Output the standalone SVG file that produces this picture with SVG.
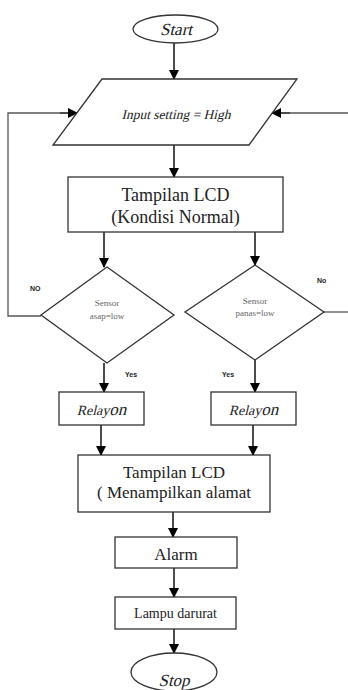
<svg xmlns="http://www.w3.org/2000/svg" width="348" height="690" viewBox="0 0 348 690">
<defs>
<marker id="ah" markerWidth="10" markerHeight="10" refX="9" refY="5" orient="auto" markerUnits="userSpaceOnUse">
<path d="M0,0 L10,5 L0,10 Z" fill="#000"/>
</marker>
<style>
.s{fill:#fff;stroke:#333;stroke-width:1.3}
.c{fill:none;stroke:#111;stroke-width:1.5}
.l{fill:none;stroke:#555;stroke-width:1.3}
.t{font-family:"Liberation Serif","Times New Roman",serif;fill:#222;text-anchor:middle}
.b{font-family:"Liberation Sans",sans-serif;font-weight:bold;font-size:7px;fill:#222}
.g{font-family:"Liberation Serif",serif;font-size:9px;fill:#666;text-anchor:middle}
</style>
</defs>
<rect width="348" height="690" fill="#fff"/>
<g id="connectors">
<line class="c" x1="174" y1="43" x2="174" y2="79" marker-end="url(#ah)"/>
<line class="c" x1="174" y1="145" x2="174" y2="177" marker-end="url(#ah)"/>
<line class="c" x1="104" y1="232" x2="104" y2="267" marker-end="url(#ah)"/>
<line class="c" x1="255" y1="232" x2="255" y2="265" marker-end="url(#ah)"/>
<polyline class="l" points="41,316 8,316 8,113 60,113"/>
<line class="c" x1="60" y1="113" x2="77" y2="113" marker-end="url(#ah)"/>
<line class="l" x1="348" y1="113" x2="290" y2="113"/>
<line class="c" x1="290" y1="113" x2="272" y2="113" marker-end="url(#ah)"/>
<line class="l" x1="324" y1="312" x2="348" y2="312"/>
<line class="c" x1="104" y1="363" x2="104" y2="392" marker-end="url(#ah)"/>
<line class="c" x1="255" y1="360" x2="255" y2="392" marker-end="url(#ah)"/>
<line class="c" x1="101" y1="425" x2="101" y2="455" marker-end="url(#ah)"/>
<line class="c" x1="253" y1="425" x2="253" y2="455" marker-end="url(#ah)"/>
<line class="c" x1="173" y1="512" x2="173" y2="537" marker-end="url(#ah)"/>
<line class="c" x1="174" y1="568" x2="174" y2="597" marker-end="url(#ah)"/>
<line class="c" x1="174" y1="629" x2="174" y2="653" marker-end="url(#ah)"/>
</g>
<g id="start">
<ellipse class="s" cx="175.5" cy="29" rx="42.5" ry="14"/>
<text class="t" transform="translate(176,35) skewX(-14)" font-size="17">Start</text>
</g>
<g id="input">
<polygon class="s" points="102,79 297,79 249,145 53,145"/>
<text class="t" transform="translate(176,119) skewX(-14)" font-size="13.5" fill="#333">Input setting = High</text>
</g>
<g id="lcd1">
<rect class="s" x="68" y="177" width="215" height="55"/>
<text class="t" x="175.5" y="201" font-size="18">Tampilan LCD</text>
<text class="t" x="175.5" y="223" font-size="18">(Kondisi Normal)</text>
</g>
<g id="sensor-asap">
<polygon class="s" points="107,267 174,315 107,363 41,315"/>
<text class="g" x="107" y="306">Sensor</text>
<text class="g" x="107" y="319">asap=low</text>
</g>
<g id="sensor-panas">
<polygon class="s" points="255,265 324,312 255,360 185,312"/>
<text class="g" x="255" y="304">Sensor</text>
<text class="g" x="255" y="316">panas=low</text>
</g>
<g id="labels">
<text class="b" x="30" y="291">NO</text>
<text class="b" x="317" y="283">No</text>
<text class="b" x="125" y="377" font-weight="normal" fill="#555">Yes</text>
<text class="b" x="222" y="377">Yes</text>
</g>
<g id="relay1">
<rect class="s" x="59" y="392" width="85" height="33"/>
<text class="t" transform="translate(101.5,415) skewX(-14)" fill="#555"><tspan font-size="14">Relay</tspan><tspan font-size="17">on</tspan></text>
</g>
<g id="relay2">
<rect class="s" x="211" y="392" width="85" height="33"/>
<text class="t" transform="translate(253.5,415) skewX(-14)" fill="#555"><tspan font-size="14">Relay</tspan><tspan font-size="17">on</tspan></text>
</g>
<g id="lcd2">
<rect class="s" x="78" y="455" width="192" height="57"/>
<text class="t" x="174" y="478" font-size="17">Tampilan LCD</text>
<text class="t" x="174" y="498" font-size="17">( Menampilkan alamat</text>
</g>
<g id="alarm">
<rect class="s" x="115" y="537" width="122" height="31"/>
<text class="t" x="176" y="560" font-size="17">Alarm</text>
</g>
<g id="lampu">
<rect class="s" x="115" y="597" width="121" height="32"/>
<text class="t" x="175.5" y="618" font-size="14">Lampu darurat</text>
</g>
<g id="stop">
<ellipse class="s" cx="174" cy="672" rx="43" ry="19"/>
<text class="t" transform="translate(174,686) skewX(-14)" font-size="17">Stop</text>
</g>
</svg>
